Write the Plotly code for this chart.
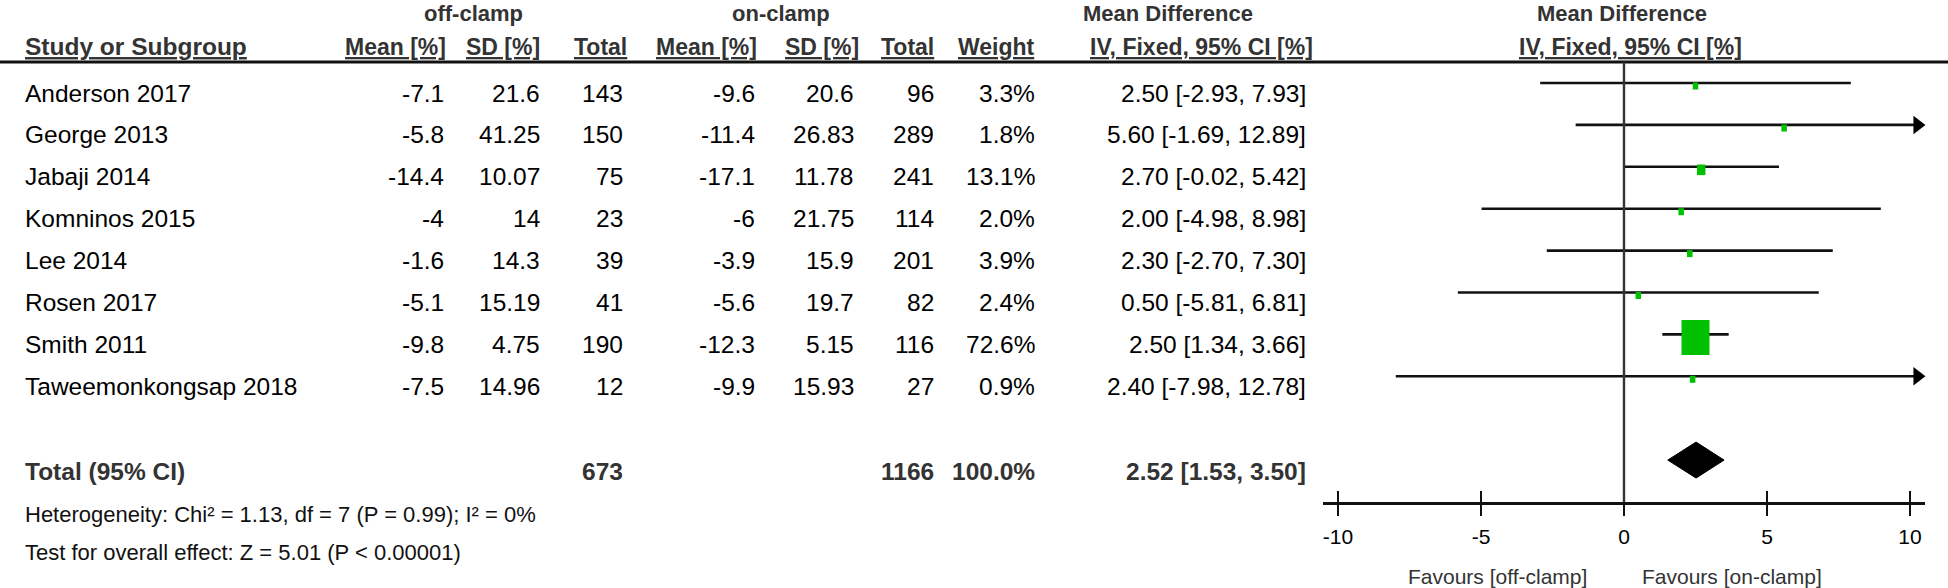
import plotly.graph_objects as go

# study data
studies = ["Anderson 2017", "George 2013", "Jabaji 2014", "Komninos 2015",
           "Lee 2014", "Rosen 2017", "Smith 2011", "Taweemonkongsap 2018"]
off_mean = [-7.1, -5.8, -14.4, -4, -1.6, -5.1, -9.8, -7.5]
off_sd = [21.6, 41.25, 10.07, 14, 14.3, 15.19, 4.75, 14.96]
off_n = [143, 150, 75, 23, 39, 41, 190, 12]
on_mean = [-9.6, -11.4, -17.1, -6, -3.9, -5.6, -12.3, -9.9]
on_sd = [20.6, 26.83, 11.78, 21.75, 15.9, 19.7, 5.15, 15.93]
on_n = [96, 289, 241, 114, 201, 82, 116, 27]
weight = [3.3, 1.8, 13.1, 2.0, 3.9, 2.4, 72.6, 0.9]
md = [2.50, 5.60, 2.70, 2.00, 2.30, 0.50, 2.50, 2.40]
ci_lo = [-2.93, -1.69, -0.02, -4.98, -2.70, -5.81, 1.34, -7.98]
ci_hi = [7.93, 12.89, 5.42, 8.98, 7.30, 6.81, 3.66, 12.78]

total_off_n = 673
total_on_n = 1166
total_weight = 100.0
total_md = 2.52
total_lo = 1.53
total_hi = 3.50

tick_vals = [-10, -5, 0, 5, 10]
tick_text = ["-10", "-5", "0", "5", "10"]
heterogeneity = "Heterogeneity: Chi² = 1.13, df = 7 (P = 0.99); I² = 0%"
overall = "Test for overall effect: Z = 5.01 (P < 0.00001)"

# layout geometry (pixels)
W, H = 1948, 588
ROW0, ROW_PX = 83, 41.9
AXIS_PX = 502
X_PX = 28.6
XMAX = 10.54
ZERO_PX = 1624

FONT = "Arial, Liberation Sans, sans-serif"
HEAD = "#333333"


def ry(px):
    return (px - ROW0) / ROW_PX


def py(px):
    return 1 - px / H


def fx(px):
    return px / W


total_row = len(studies) + 1
y_top = ry(0)
y_axis = ry(AXIS_PX)

fig = go.Figure()

# confidence interval lines
xs, ys = [], []
arrow_x, arrow_y = [], []
arrow_r = 8 / X_PX
for i, (lo, hi) in enumerate(zip(ci_lo, ci_hi)):
    end = hi
    if hi > XMAX:
        end = XMAX - arrow_r
        arrow_x.append(end)
        arrow_y.append(i)
    xs += [max(lo, -XMAX), end, None]
    ys += [i, i, None]

fig.add_trace(go.Scatter(x=xs, y=ys, mode="lines", line=dict(color="#111111", width=2.6),
                         hoverinfo="skip", showlegend=False))
fig.add_trace(go.Scatter(x=arrow_x, y=arrow_y, mode="markers",
                         marker=dict(symbol="triangle-right", size=16, color="#000000"),
                         cliponaxis=False, hoverinfo="skip", showlegend=False))

# weight boxes
shapes = []
for i, (m, w) in enumerate(zip(md, weight)):
    f = (w / 72.6) ** 0.7
    bw = max(5.5, 28 * f) / X_PX
    bh = max(7, 35 * f) / ROW_PX
    yc = i + 3 / ROW_PX
    shapes.append(dict(type="rect", xref="x", yref="y", x0=m - bw / 2, x1=m + bw / 2,
                       y0=yc - bh / 2, y1=yc + bh / 2, fillcolor="#00c000",
                       line=dict(width=0)))

# pooled diamond
dh = 18 / ROW_PX
fig.add_trace(go.Scatter(x=[total_lo, total_md, total_hi, total_md, total_lo],
                         y=[total_row, total_row - dh, total_row, total_row + dh, total_row],
                         mode="lines", fill="toself", fillcolor="#000000",
                         line=dict(color="#000000", width=1), hoverinfo="skip", showlegend=False))

# invisible trace to carry the second (inside tick) axis
fig.add_trace(go.Scatter(x=tick_vals, y=[total_row] * len(tick_vals), xaxis="x2", mode="markers",
                         marker=dict(opacity=0), hoverinfo="skip", showlegend=False))

# header rule and zero line
shapes.append(dict(type="line", xref="paper", yref="y", x0=0, x1=1, y0=ry(62), y1=ry(62),
                   line=dict(color="#111111", width=3)))
shapes.append(dict(type="line", xref="x", yref="y", x0=0, x1=0, y0=ry(62), y1=y_axis,
                   line=dict(color="#333333", width=2.4)))

ann = []


def txt(text, x, y, anchor="right", bold=False, size=24.5, color="#000000", yref="y"):
    if bold:
        text = "<b>" + text + "</b>"
    ann.append(dict(text=text, x=fx(x), y=y, xref="paper", yref=yref, xanchor=anchor,
                    yanchor="middle", showarrow=False,
                    font=dict(family=FONT, size=size, color=color)))


# header row 1
for label, cx in [("off-clamp", 473), ("on-clamp", 781), ("Mean Difference", 1168),
                  ("Mean Difference", 1622)]:
    txt(label, cx, ry(13), anchor="center", bold=True, size=22, color=HEAD)

# header row 2
hy = ry(46.5)
txt("<u>Study or Subgroup</u>", 23, hy, anchor="left", bold=True, size=24.5, color=HEAD)
for label, rx in [("Mean [%]", 448), ("SD [%]", 542), ("Total", 629), ("Mean [%]", 759),
                  ("SD [%]", 861), ("Total", 936), ("Weight", 1037),
                  ("IV, Fixed, 95% CI [%]", 1315)]:
    txt("<u>" + label + "</u>", rx, hy, bold=True, size=23, color=HEAD)
txt("<u>IV, Fixed, 95% CI [%]</u>", 1630, hy, anchor="center", bold=True, size=23, color=HEAD)

# study rows
off = 10 / ROW_PX
for i, s in enumerate(studies):
    y = i + off
    txt(s, 23, y, anchor="left")
    txt(f"{off_mean[i]:g}", 446, y)
    txt(f"{off_sd[i]:g}", 542, y)
    txt(f"{off_n[i]}", 625, y)
    txt(f"{on_mean[i]:g}", 757, y)
    txt(f"{on_sd[i]:g}", 856, y)
    txt(f"{on_n[i]}", 936, y)
    txt(f"{weight[i]:.1f}%", 1037, y)
    txt(f"{md[i]:.2f} [{ci_lo[i]:.2f}, {ci_hi[i]:.2f}]", 1308, y)

# total row
ty = total_row + 11 / ROW_PX
txt("Total (95% CI)", 23, ty, anchor="left", bold=True, color=HEAD)
txt(f"{total_off_n}", 625, ty, bold=True, color=HEAD)
txt(f"{total_on_n}", 936, ty, bold=True, color=HEAD)
txt(f"{total_weight:.1f}%", 1037, ty, bold=True, color=HEAD)
txt(f"{total_md:.2f} [{total_lo:.2f}, {total_hi:.2f}]", 1308, ty, bold=True, color=HEAD)

txt(heterogeneity, 23, py(514), anchor="left", size=22, color="#111111", yref="paper")
txt(overall, 23, py(552), anchor="left", size=22, color="#111111", yref="paper")
txt("Favours [off-clamp]", 1497, py(576), anchor="center", size=21, color=HEAD, yref="paper")
txt("Favours [on-clamp]", 1732, py(576), anchor="center", size=21, color=HEAD, yref="paper")

dom = [fx(ZERO_PX - XMAX * X_PX), fx(ZERO_PX + XMAX * X_PX)]
axis_common = dict(range=[-XMAX, XMAX], domain=dom, tickvals=tick_vals, showgrid=False,
                   zeroline=False, ticklen=11, tickwidth=2.4, tickcolor="#111111", fixedrange=True)

fig.update_layout(
    width=W, height=H,
    margin=dict(l=0, r=0, t=0, b=0),
    paper_bgcolor="white", plot_bgcolor="white",
    showlegend=False,
    xaxis=dict(**axis_common, ticks="outside", showline=True, linewidth=2.6, linecolor="#111111",
               ticktext=tick_text, ticklabelstandoff=3,
               tickfont=dict(family=FONT, size=21, color="#000000"), anchor="y"),
    xaxis2=dict(**axis_common, ticks="inside", showline=False, showticklabels=False,
                overlaying="x", anchor="y"),
    yaxis=dict(range=[y_axis, y_top], domain=[py(AXIS_PX), 1], visible=False, fixedrange=True),
    shapes=shapes,
    annotations=ann,
)

# drop the browser's default page margin so the figure sits at the window origin
fig.write_html("out.html", config={"displayModeBar": False},
               post_script="document.body.style.margin='0px';document.body.style.overflow='hidden';")
